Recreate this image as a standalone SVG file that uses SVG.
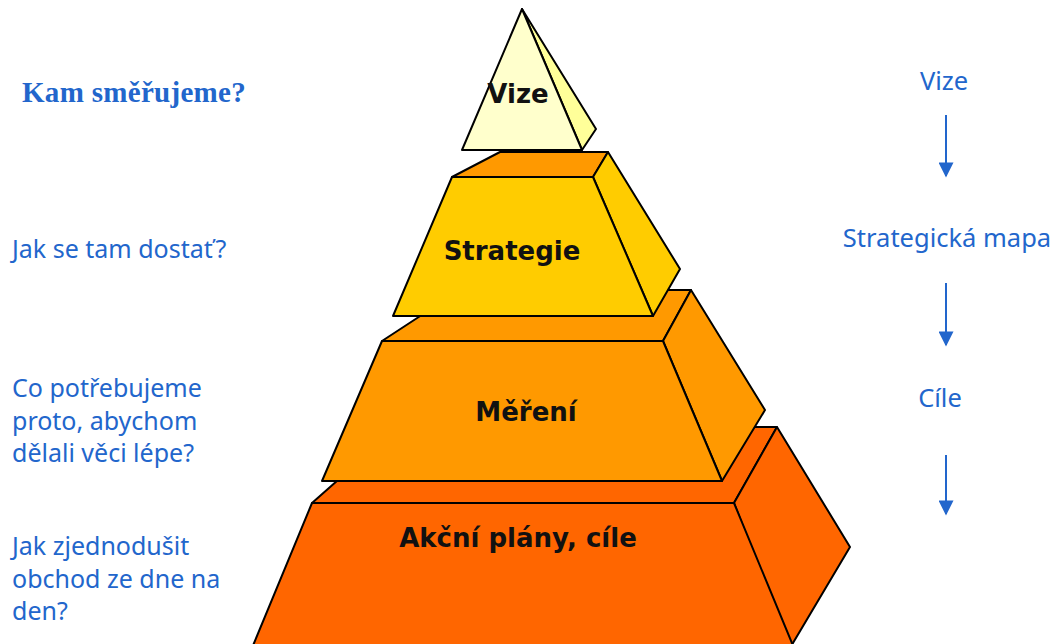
<svg xmlns="http://www.w3.org/2000/svg" width="1056" height="644" viewBox="0 0 1056 644">
  <defs>
    <style>
      .face { stroke: #000; stroke-width: 2; stroke-linejoin: round; }
      .label { font-family: "DejaVu Sans", Verdana, sans-serif; font-weight: bold; font-size: 26px; fill: #111; text-anchor: middle; }
      .q { font-family: "Noto Sans", "Open Sans", sans-serif; font-size: 25px; fill: #2266cc; }
      .flow { font-family: "Noto Sans", "Open Sans", sans-serif; font-size: 25.5px; fill: #2266cc; text-anchor: middle; }
      .arrow { stroke: #2266cc; stroke-width: 2; fill: none; }
    </style>
    <marker id="head" viewBox="0 0 10 10" refX="9" refY="5" markerWidth="8" markerHeight="7.5" markerUnits="strokeWidth" orient="auto">
      <path d="M0,0 L10,5 L0,10 Z" fill="#2266cc"/>
    </marker>
  </defs>

  <rect width="1056" height="644" fill="#fff"/>

  <!-- bottom tier -->
  <g id="akcni-plany">
    <polygon class="face" fill="#ff6600" points="312,503 398,427 777,427 734,503"/>
    <polygon class="face" fill="#ff6600" points="734,503 777,427 850,547 790,648"/>
    <polygon class="face" fill="#ff6600" points="312,503 734,503 794,648 252,648"/>
    <text class="label" x="518" y="547">Akční plány, cíle</text>
  </g>

  <!-- third tier -->
  <g id="mereni">
    <polygon class="face" fill="#ff9900" points="382,341 460,290 691,290 663,341"/>
    <polygon class="face" fill="#ff9900" points="663,341 691,290 765,410 722,481"/>
    <polygon class="face" fill="#ff9900" points="382,341 663,341 722,481 322,481"/>
    <text class="label" x="526" y="421">Měření</text>
  </g>

  <!-- second tier -->
  <g id="strategie">
    <polygon class="face" fill="#ff9900" points="452,177 500,152 608,152 593,177"/>
    <polygon class="face" fill="#ffcc00" points="593,177 608,152 680,269 653,316"/>
    <polygon class="face" fill="#ffcc00" points="452,177 593,177 653,316 393,316"/>
    <text class="label" x="512" y="260">Strategie</text>
  </g>

  <!-- apex -->
  <g id="vize">
    <polygon class="face" fill="#ffff99" points="522,9 596,129 582,150"/>
    <polygon class="face" fill="#ffffcc" points="522,9 582,150 462,150"/>
    <text class="label" x="518" y="103">Vize</text>
  </g>

  <!-- questions on the left -->
  <g id="questions">
    <text x="22" y="102" font-family="'Liberation Serif', 'Times New Roman', serif" font-weight="bold" font-size="29" letter-spacing="0.3" fill="#2266cc">Kam směřujeme?</text>
    <text class="q" x="12" y="258">Jak se tam dostať?</text>
    <text class="q" x="12" y="397">Co potřebujeme</text>
    <text class="q" x="12" y="430">proto, abychom</text>
    <text class="q" x="12" y="462">dělali věci lépe?</text>
    <text class="q" x="12" y="555">Jak zjednodušit</text>
    <text class="q" x="12" y="588">obchod ze dne na</text>
    <text class="q" x="12" y="620">den?</text>
  </g>

  <!-- flow on the right -->
  <g id="flow-vize"><text class="flow" x="944" y="90">Vize</text></g>
  <g id="flow-mapa"><text class="flow" x="947" y="247">Strategická mapa</text></g>
  <g id="flow-cile"><text class="flow" x="940" y="407">Cíle</text></g>

  <g id="connectors">
    <line class="arrow" x1="946" y1="115" x2="946" y2="176" marker-end="url(#head)"/>
    <line class="arrow" x1="946" y1="283" x2="946" y2="345" marker-end="url(#head)"/>
    <line class="arrow" x1="946" y1="455" x2="946" y2="514" marker-end="url(#head)"/>
  </g>
</svg>
